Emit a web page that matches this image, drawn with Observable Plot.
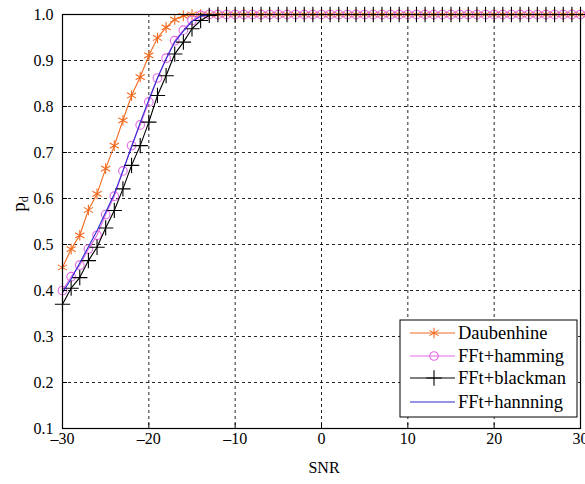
<!DOCTYPE html>
<html><head><meta charset="utf-8">
<script src="https://cdn.jsdelivr.net/npm/d3@7"></script>
<script src="https://cdn.jsdelivr.net/npm/@observablehq/plot@0.6"></script>
<style>body{margin:0;background:#fff}#chart{width:585px;height:484px}</style>
</head><body><div id="chart"></div>
<script>
const snr = [-30,-29,-28,-27,-26,-25,-24,-23,-22,-21,-20,-19,-18,-17,-16,-15,-14,-13,-12,-11,
  -10,-9,-8,-7,-6,-5,-4,-3,-2,-1,0,1,2,3,4,5,6,7,8,9,10,11,12,13,14,15,16,17,18,19,20,
  21,22,23,24,25,26,27,28,29,30];
const daubenhine = [0.45,0.49,0.52,0.575,0.61,0.665,0.715,0.77,0.824,0.864,0.911,0.949,0.972,0.989,0.997,
  1,1,1,1,1,1,1,1,1,1, 1,1,1,1,1,1,1,1,1,1, 1,1,1,1,1,1,1,1,1,1, 1,1,1,1,1,1,1,1,1,1, 1,1,1,1,1,1];
const hamming = [0.40,0.43,0.455,0.49,0.52,0.565,0.605,0.66,0.715,0.76,0.81,0.862,0.905,0.943,0.966,0.987,0.998,
  1,1,1,1,1,1,1,1,1,1, 1,1,1,1,1,1,1,1,1,1, 1,1,1,1,1,1,1,1,1,1, 1,1,1,1,1,1,1,1,1,1, 1,1,1,1];
const blackman = [0.37,0.405,0.428,0.465,0.494,0.536,0.574,0.621,0.672,0.715,0.766,0.824,0.867,0.914,0.94,0.969,0.987,0.998,
  1,1,1,1,1,1,1,1,1,1, 1,1,1,1,1,1,1,1,1,1, 1,1,1,1,1,1,1,1,1,1, 1,1,1,1,1,1,1,1,1,1, 1,1,1];
const hannning = [0.395,0.425,0.46,0.495,0.53,0.57,0.61,0.66,0.712,0.765,0.815,0.862,0.903,0.94,0.964,0.985,0.996,
  1,1,1,1,1,1,1,1,1,1, 1,1,1,1,1,1,1,1,1,1, 1,1,1,1,1,1,1,1,1,1, 1,1,1,1,1,1,1,1,1,1, 1,1,1,1];
const seriesNames = ["Daubenhine","FFt+hamming","FFt+blackman","FFt+hannning"];
const xTicks = [-30,-20,-10,0,10,20,30];
const yTicks = [0.1,0.2,0.3,0.4,0.5,0.6,0.7,0.8,0.9,1.0];
const xGrid = [-20,-10,0,10,20];
const yGrid = [0.2,0.3,0.4,0.5,0.6,0.7,0.8,0.9];

const colors = ["#f26a1f","#e36ae6","#000000","#2a2ad2"];
const symbols = ["asterisk","circle","plus",null];
const seriesValues = [daubenhine, hamming, blackman, hannning];
const rows = seriesValues.map((vals,i)=>snr.map((x,j)=>({x, y: vals[j], s: seriesNames[i]})));

const font = "Liberation Serif";
const marks = [
  Plot.gridX(xGrid, {stroke:"#000", strokeOpacity:0.85, strokeDasharray:"3,3"}),
  Plot.gridY(yGrid, {stroke:"#000", strokeOpacity:0.85, strokeDasharray:"3,3"}),
];
rows.forEach((r,i)=>{
  marks.push(Plot.line(r,{x:"x",y:"y",stroke:colors[i],strokeWidth:1.1}));
  if (symbols[i]) marks.push(Plot.dot(r,{x:"x",y:"y",stroke:colors[i],fill:"none",symbol:symbols[i],r: symbols[i]==="circle"?4.3:5,strokeWidth:1.1}));
});
marks.push(Plot.frame({stroke:"#000", strokeWidth:1.2}));
marks.push(Plot.axisX(xTicks,{tickSize:-5, tickPadding:9, label:null, fontSize:16, fontFamily:font,
  tickFormat: d => d < 0 ? "\u2013" + (-d) : String(d)}));
marks.push(Plot.axisY(yTicks,{tickSize:-5, tickPadding:14, label:null, fontSize:16, fontFamily:font,
  tickFormat: d => d.toFixed(1)}));

const plot = Plot.plot({
  width:585, height:484,
  marginLeft:62, marginRight:5, marginTop:14, marginBottom:56,
  style:{fontFamily:font, fontSize:"16px", background:"#fff", color:"#000", overflow:"visible"},
  x:{domain:[-30,30]},
  y:{domain:[0.1,1.0]},
  marks
});
document.getElementById("chart").appendChild(plot);

const svg = d3.select(plot);
svg.attr("font-family", font);
// axis titles
svg.append("text").attr("x",324).attr("y",473).attr("text-anchor","middle")
  .attr("font-family",font).attr("font-size",16).attr("fill","#000").text("SNR");
const yl = svg.append("text").attr("transform","translate(25,204) rotate(-90)")
  .attr("text-anchor","middle").attr("font-family",font).attr("font-size",19).attr("fill","#000");
yl.append("tspan").text("p");
yl.append("tspan").attr("font-size",12).attr("dy",3).text("d");

// legend
const lg = svg.append("g");
lg.append("rect").attr("x",400).attr("y",320).attr("width",177).attr("height",97)
  .attr("fill","#fff").attr("stroke","#000").attr("stroke-width",1);
const ly = [333,356,378,402];
const d3sym = {asterisk:d3.symbolAsterisk, circle:d3.symbolCircle, plus:d3.symbolPlus};
seriesNames.forEach((name,i)=>{
  lg.append("line").attr("x1",410).attr("x2",455).attr("y1",ly[i]).attr("y2",ly[i])
    .attr("stroke",colors[i]).attr("stroke-width",1.1);
  if (symbols[i]) {
    const r = symbols[i]==="circle"?4.3:5;
    lg.append("path").attr("d", d3.symbol(d3sym[symbols[i]], Math.PI*r*r)())
      .attr("transform",`translate(434,${ly[i]})`).attr("fill","none")
      .attr("stroke",colors[i]).attr("stroke-width",1.1);
  }
  lg.append("text").attr("x",458).attr("y",ly[i]).attr("dy","0.33em").attr("text-anchor","start")
    .attr("font-family",font).attr("font-size",18.5).attr("fill","#000").text(name);
});
</script>
</body></html>
